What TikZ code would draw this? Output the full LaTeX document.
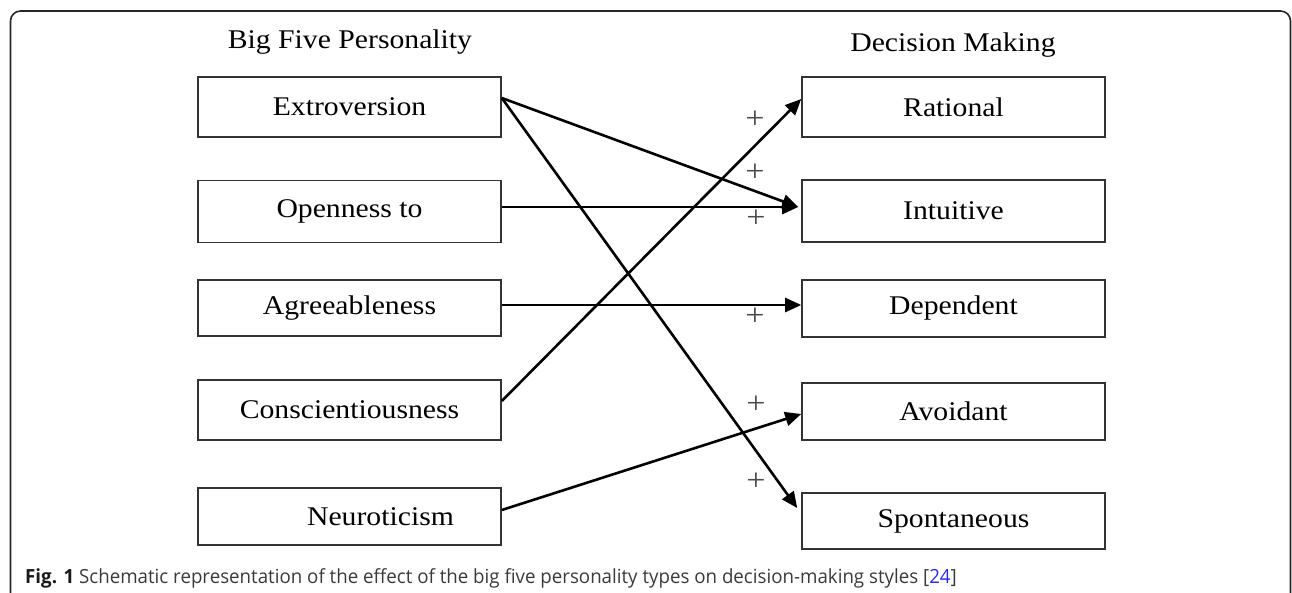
\documentclass[tikz,border=0pt]{standalone}
\usepackage{fontspec}
\setmainfont{Liberation Serif}[FakeStretch=1.1]
\newfontfamily\capfont{Open Sans}[FakeStretch=0.96]
\usetikzlibrary{arrows.meta}
\definecolor{boxline}{HTML}{333333}
\definecolor{captext}{HTML}{3A3A3A}
\definecolor{linkblue}{HTML}{2A2AE0}
\begin{document}
\begin{tikzpicture}[x=1pt,y=-1pt,
  box/.style={draw=boxline,line width=1.6pt,minimum width=303pt,minimum height=60pt,inner sep=0pt,
    font=\fontsize{27}{30}\selectfont},
  head/.style={font=\fontsize{27}{30}\selectfont,inner sep=0pt,anchor=base},
  plus/.style={font=\fontsize{31}{33}\selectfont,inner sep=0pt,text=black!70},
  arr/.style={line width=2.6pt,-{Triangle[length=16pt,width=14pt]}}]
\useasboundingbox (0,0) rectangle (1292,592);
\draw[line width=1.6pt,color=black!85,rounded corners=10pt] (10.5,11) rectangle (1290.5,620);
% headers
\node[head] (hbig) at (350,48) {Big Five Personality};
\node[head] (hdec) at (953,51) {Decision Making};
% left boxes
\node[box] (ext) at (349.5,107) {Extroversion};
\node[box,minimum height=62pt] (ope) at (349.5,211.5) {Openness to};
\node[box,minimum height=56pt] (agr) at (349.5,308) {Agreeableness};
\node[box] (con) at (349.5,410) {Conscientiousness};
\node[box,minimum height=57pt] (neu) at (349.5,516.5) {\hspace*{62pt}Neuroticism};
% right boxes
\node[box] (rat) at (953.5,107) {Rational};
\node[box,minimum height=62pt] (int) at (953.5,211) {Intuitive};
\node[box,minimum height=57pt] (dep) at (953.5,308.5) {Dependent};
\node[box,minimum height=57pt] (avo) at (953.5,411.5) {Avoidant};
\node[box,minimum height=56pt] (spo) at (953.5,521) {Spontaneous};
% arrows
\draw[arr] ([yshift=9pt]ext.east) -- ([xshift=-3pt,yshift=4pt]int.west);
\draw[arr] ([yshift=4.5pt]ope.east) -- ([xshift=-3pt,yshift=4pt]int.west);
\draw[arr] ([yshift=3pt]agr.east) -- ([yshift=3.5pt]dep.west);
\draw[arr] ([yshift=9pt]con.east) -- ([yshift=8pt]rat.west);
\draw[arr] ([yshift=6.5pt]neu.east) -- ([yshift=-2.5pt]avo.west);
\draw[arr] ([yshift=9pt]ext.east) -- ([xshift=-4pt,yshift=13pt]spo.west);
% plus signs
\node[plus] (p1) at (755,120) {+};
\node[plus] (p2) at (755,173) {+};
\node[plus] (p3) at (756,219) {+};
\node[plus] (p4) at (755,317) {+};
\node[plus] (p5) at (756,405) {+};
\node[plus] (p6) at (756,482) {+};
% caption
\node[anchor=base west,inner sep=0pt,text=captext,font=\capfont\fontsize{19.5}{22}\selectfont] (cap) at (25,583)
  {\textbf{\color{black!90}Fig. 1} Schematic representation of the effect of the big five personality types on decision-making styles [{\color{linkblue}24}]};
\end{tikzpicture}
\end{document}
